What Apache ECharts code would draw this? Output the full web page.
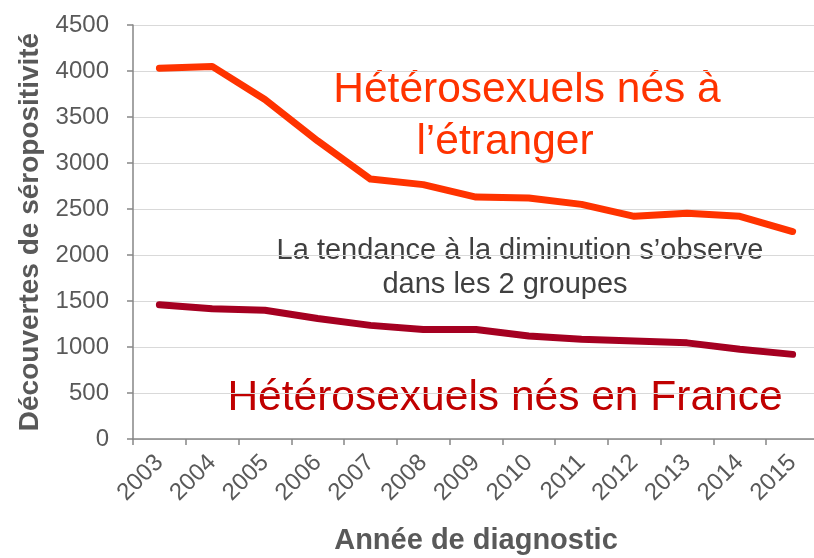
<!DOCTYPE html>
<html>
<head>
<meta charset="utf-8">
<script src="https://cdn.jsdelivr.net/npm/echarts@6/dist/echarts.min.js"></script>
<style>
  html, body { margin: 0; padding: 0; background: #fff; }
  #chart { width: 814px; height: 558px; }
</style>
</head>
<body>
<div id="chart"></div>
<script>
const years = ['2003', '2004', '2005', '2006', '2007', '2008', '2009', '2010', '2011', '2012', '2013', '2014', '2015']
const bornAbroad = [4030, 4050, 3690, 3240, 2825, 2765, 2630, 2620, 2550, 2420, 2455, 2420, 2255]
const bornFrance = [1460, 1415, 1400, 1310, 1235, 1190, 1190, 1120, 1085, 1065, 1045, 975, 920]
const yTicks = [0, 500, 1000, 1500, 2000, 2500, 3000, 3500, 4000, 4500]

const font = '"Liberation Sans", Arial, sans-serif'
const axisGrey = '#868686'
const labelGrey = '#595959'

const chart = echarts.init(document.getElementById('chart'))

chart.setOption({
  animation: false,
  textStyle: { fontFamily: font },
  grid: {
    left: 133,
    right: -5,
    top: 25,
    bottom: 119,
    containLabel: false,
    outerBoundsMode: 'none'
  },
  xAxis: {
    type: 'category',
    data: years,
    boundaryGap: true,
    name: 'Année de diagnostic',
    nameLocation: 'middle',
    nameGap: 87,
    nameTextStyle: { fontSize: 29, fontWeight: 'bold', color: labelGrey, fontFamily: font },
    axisLine: { lineStyle: { color: axisGrey, width: 1.5 } },
    axisTick: { show: true, length: 6, alignWithLabel: false, lineStyle: { color: axisGrey, width: 1.5 } },
    axisLabel: { rotate: 45, margin: 20, fontSize: 24, color: labelGrey, fontFamily: font, interval: 0 }
  },
  yAxis: {
    type: 'value',
    min: yTicks[0],
    max: yTicks[yTicks.length - 1],
    interval: 500,
    name: 'Découvertes de séropositivité',
    nameLocation: 'middle',
    nameGap: 86,
    nameTextStyle: { fontSize: 28, fontWeight: 'bold', color: labelGrey, fontFamily: font },
    axisLine: { show: true, lineStyle: { color: axisGrey, width: 1.5 } },
    axisTick: { show: true, length: 6, lineStyle: { color: axisGrey, width: 1.5 } },
    axisLabel: {
      margin: 24,
      fontSize: 24,
      color: labelGrey,
      fontFamily: font,
      formatter: (v) => String(v)
    },
    splitLine: { show: true, lineStyle: { color: '#D9D9D9', width: 1 } }
  },
  series: [
    {
      name: 'Hétérosexuels nés à l’étranger',
      type: 'line',
      data: bornAbroad,
      symbol: 'none',
      lineStyle: { color: '#FF3300', width: 7, cap: 'round', join: 'round' },
      itemStyle: { color: '#FF3300' }
    },
    {
      name: 'Hétérosexuels nés en France',
      type: 'line',
      data: bornFrance,
      symbol: 'none',
      lineStyle: { color: '#A50021', width: 7, cap: 'round', join: 'round' },
      itemStyle: { color: '#A50021' }
    }
  ],
  graphic: [
    {
      type: 'text',
      x: 527,
      y: 69,
      style: {
        text: 'Hétérosexuels nés à',
        fill: '#FF3300',
        font: '42.5px ' + font,
        align: 'center'
      }
    },
    {
      type: 'text',
      x: 505,
      y: 121,
      style: {
        text: 'l’étranger',
        fill: '#FF3300',
        font: '42.5px ' + font,
        align: 'center'
      }
    },
    {
      type: 'text',
      x: 520,
      y: 236,
      style: {
        text: 'La tendance à la diminution s’observe',
        fill: '#404040',
        font: '29px ' + font,
        align: 'center'
      }
    },
    {
      type: 'text',
      x: 505,
      y: 270,
      style: {
        text: 'dans les 2 groupes',
        fill: '#404040',
        font: '29px ' + font,
        align: 'center'
      }
    },
    {
      type: 'text',
      x: 505,
      y: 377,
      style: {
        text: 'Hétérosexuels nés en France',
        fill: '#C00000',
        font: '42.5px ' + font,
        align: 'center'
      }
    }
  ]
})
</script>
</body>
</html>
